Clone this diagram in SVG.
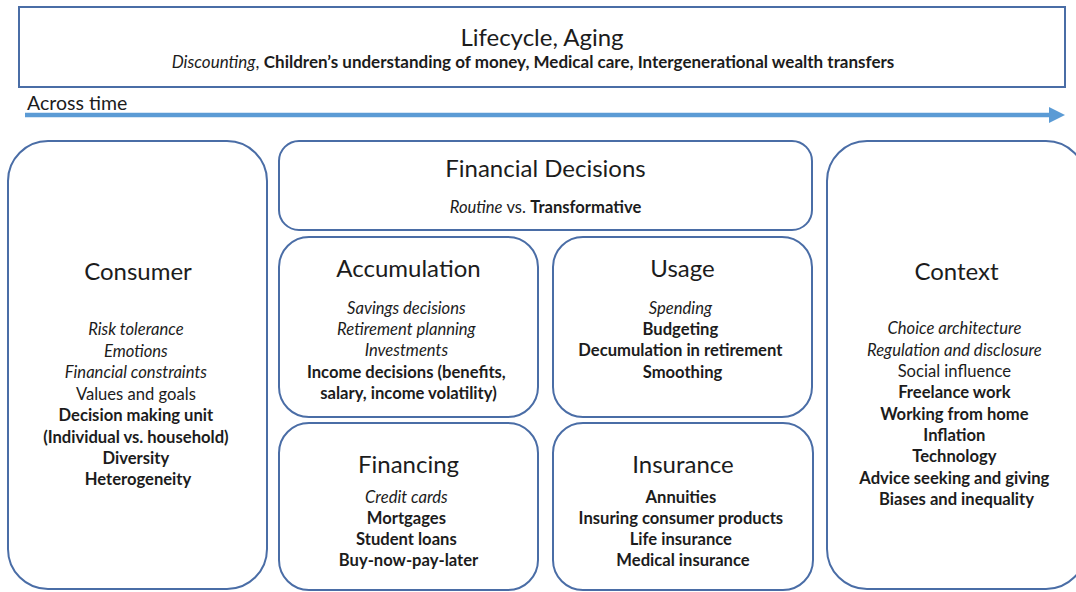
<svg xmlns="http://www.w3.org/2000/svg" width="1076" height="592" viewBox="0 0 1076 592">
  <defs>
    <style>
      text { font-family: Lato, "Liberation Sans", sans-serif; fill: #1c1c1c; text-anchor: middle; }
      .box { fill: #ffffff; stroke: #4a6da6; stroke-width: 2; }
      .title { font-size: 24px; }
      .item { font-size: 16.6px; }
      .it { font-style: italic; }
      .b { font-weight: bold; }
      .sub { font-size: 17px; }
    </style>
    <marker id="arrowhead" markerWidth="16" markerHeight="16" refX="6" refY="8" orient="auto" markerUnits="userSpaceOnUse">
      <path d="M0,0 L16,8 L0,16 Z" fill="#5b9bd5"/>
    </marker>
  </defs>

  <rect width="1076" height="592" fill="#ffffff"/>

  <!-- Lifecycle banner -->
  <g id="lifecycle">
    <rect class="box" x="19" y="7" width="1046" height="80"/>
    <text class="title" x="542" y="46">Lifecycle, Aging</text>
    <text class="sub" x="533" y="68"><tspan class="it">Discounting</tspan>, <tspan class="b">Children’s understanding of money, Medical care, Intergenerational wealth transfers</tspan></text>
  </g>

  <!-- Time axis -->
  <g id="connectors">
    <line x1="25" y1="115" x2="1055" y2="115" stroke="#5b9bd5" stroke-width="4.5" marker-end="url(#arrowhead)"/>
  </g>
  <text x="27" y="110" style="text-anchor:start;font-size:19.5px">Across time</text>

  <!-- Consumer -->
  <g id="consumer">
    <rect class="box" x="8" y="141" width="259" height="448" rx="40"/>
    <text class="title" x="138" y="280">Consumer</text>
    <text class="item" x="138">
      <tspan class="it" x="138" y="335">Risk tolerance</tspan>
      <tspan class="it" x="138" y="357">Emotions</tspan>
      <tspan class="it" x="138" y="378">Financial constraints</tspan>
      <tspan x="138" y="400">Values and goals</tspan>
      <tspan class="b" x="138" y="421">Decision making unit</tspan>
      <tspan class="b" x="138" y="443">(Individual vs. household)</tspan>
      <tspan class="b" x="138" y="464">Diversity</tspan>
      <tspan class="b" x="138" y="485">Heterogeneity</tspan>
    </text>
  </g>

  <!-- Financial decisions -->
  <g id="financial-decisions">
    <rect class="box" x="279" y="141" width="533" height="89" rx="20"/>
    <text class="title" x="545.5" y="177">Financial Decisions</text>
    <text class="item" x="545.5" y="213"><tspan class="it">Routine</tspan> vs. <tspan class="b">Transformative</tspan></text>
  </g>

  <!-- Accumulation -->
  <g id="accumulation">
    <rect class="box" x="279" y="237" width="259" height="180" rx="30"/>
    <text class="title" x="408.5" y="277">Accumulation</text>
    <text class="item">
      <tspan class="it" x="408.5" y="314">Savings decisions</tspan>
      <tspan class="it" x="408.5" y="335">Retirement planning</tspan>
      <tspan class="it" x="408.5" y="356">Investments</tspan>
      <tspan class="b" x="408.5" y="378">Income decisions (benefits,</tspan>
      <tspan class="b" x="408.5" y="399">salary, income volatility)</tspan>
    </text>
  </g>

  <!-- Usage -->
  <g id="usage">
    <rect class="box" x="553" y="237" width="259" height="180" rx="30"/>
    <text class="title" x="682.5" y="277">Usage</text>
    <text class="item">
      <tspan class="it" x="682.5" y="314">Spending</tspan>
      <tspan class="b" x="682.5" y="335">Budgeting</tspan>
      <tspan class="b" x="682.5" y="356">Decumulation in retirement</tspan>
      <tspan class="b" x="682.5" y="378">Smoothing</tspan>
    </text>
  </g>

  <!-- Financing -->
  <g id="financing">
    <rect class="box" x="279" y="423" width="259" height="167" rx="30"/>
    <text class="title" x="408.5" y="473">Financing</text>
    <text class="item">
      <tspan class="it" x="408.5" y="503">Credit cards</tspan>
      <tspan class="b" x="408.5" y="524">Mortgages</tspan>
      <tspan class="b" x="408.5" y="545">Student loans</tspan>
      <tspan class="b" x="408.5" y="566">Buy-now-pay-later</tspan>
    </text>
  </g>

  <!-- Insurance -->
  <g id="insurance">
    <rect class="box" x="553" y="423" width="260" height="167" rx="30"/>
    <text class="title" x="683" y="473">Insurance</text>
    <text class="item">
      <tspan class="b" x="683" y="503">Annuities</tspan>
      <tspan class="b" x="683" y="524">Insuring consumer products</tspan>
      <tspan class="b" x="683" y="545">Life insurance</tspan>
      <tspan class="b" x="683" y="566">Medical insurance</tspan>
    </text>
  </g>

  <!-- Context -->
  <g id="context">
    <rect class="box" x="827" y="141" width="259" height="448" rx="40"/>
    <text class="title" x="956.5" y="280">Context</text>
    <text class="item">
      <tspan class="it" x="956.5" y="334">Choice architecture</tspan>
      <tspan class="it" x="956.5" y="356">Regulation and disclosure</tspan>
      <tspan x="956.5" y="377">Social influence</tspan>
      <tspan class="b" x="956.5" y="398">Freelance work</tspan>
      <tspan class="b" x="956.5" y="420">Working from home</tspan>
      <tspan class="b" x="956.5" y="441">Inflation</tspan>
      <tspan class="b" x="956.5" y="462">Technology</tspan>
      <tspan class="b" x="956.5" y="484">Advice seeking and giving</tspan>
      <tspan class="b" x="956.5" y="505">Biases and inequality</tspan>
    </text>
  </g>
</svg>
